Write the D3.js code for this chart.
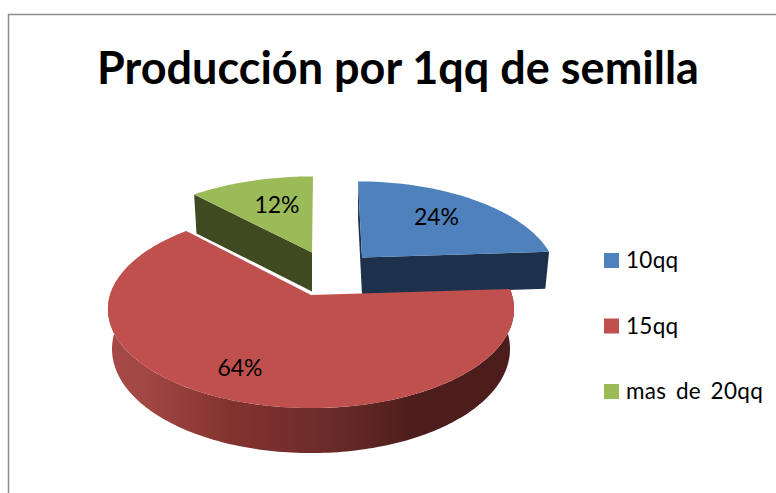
<!DOCTYPE html>
<html><head><meta charset="utf-8">
<script src="https://cdn.jsdelivr.net/npm/d3@7/dist/d3.min.js"></script>
<style>html,body{margin:0;padding:0;background:#fff}svg{display:block}text{font-family:Lato,"Open Sans",sans-serif;fill:#000}</style>
</head><body>
<script>
const titleText = "Producción por 1qq de semilla";
const categories = ["10qq", "15qq", "mas de 20qq"];
const seriesValues = [24, 64, 12];
const sliceColors = ["#4f81bd", "#c0504d", "#9bbb59"];
const wallColors = ["#1d314d", null, "#404a20"];

const W = 776, H = 493;
const svg = d3.select("body").append("svg").attr("width", W).attr("height", H);

const defs = svg.append("defs");
const grad = defs.append("linearGradient").attr("id", "wall").attr("x1", 0).attr("x2", 1).attr("y1", 0).attr("y2", 0);
[[0, "#a84a47"], [0.1, "#a04643"], [0.3, "#83332f"], [0.55, "#6a2b2a"], [0.75, "#4e1e1c"], [1, "#4a1c1b"]]
  .forEach(([o, c]) => grad.append("stop").attr("offset", o).attr("stop-color", c));

// frame
svg.append("path").attr("d", `M8.5,${H}V14.5H${W}`).attr("fill", "none").attr("stroke", "#8c8c8c").attr("stroke-width", 1.5);

// title
svg.append("text").attr("x", 398).attr("y", 84).attr("text-anchor", "middle")
  .attr("font-size", 45).attr("font-weight", 700).text(titleText);

// pie angles
const arcs = d3.pie().sort(null).value(d => d)(seriesValues);

// per-slice placement of the exploded pie (apex on screen, plane radius, perspective, label offset)
const placement = [
  { cx: 362, cy: 257.5, R: 190, A: 91, B: 0.196, skew: 4, depth: 37, lab: [74.5, -41] },
  { cx: 311, cy: 295, R: 201, A: 97, B: 0.142, skew: 0, depth: 39, lab: [-71, 73] },
  { cx: 312, cy: 252.5, R: 198, A: 91, B: 0.196, skew: -1, depth: 39, lab: [-35, -48] }
];
function project(p, r, th) {
  const u = r * Math.sin(th), v = -r * Math.cos(th), k = 1 / (1 - p.B * v);
  return [p.cx + p.R * u * k + p.skew * Math.min(v, 0), p.cy + p.A * v * k, v];
}
function lower(p, pt) {
  const d = p.depth + 6 * Math.max(pt[2], 0);
  return [p.cx + (pt[0] - p.cx) * 0.98, pt[1] + d];
}
const line = d3.line();
const xy = q => [q[0], q[1]];
function rim(p, t0, t1) {
  const n = Math.max(2, Math.ceil(Math.abs(t1 - t0) / 0.02));
  return d3.range(n + 1).map(i => project(p, 1, t0 + (t1 - t0) * i / n));
}

const g = svg.append("g");
// back slices first
[2, 0, 1].forEach(i => {
  const a = arcs[i], p = placement[i];
  const outer = rim(p, a.startAngle, a.endAngle);
  const apex = [p.cx, p.cy, 0];
  if (i === 1) {
    const front = rim(p, a.startAngle, Math.min(a.endAngle, 1.5 * Math.PI + 0.15));
    const wall = front.concat(front.slice().reverse().map(q => lower(p, q)));
    g.append("path").attr("d", line(wall.map(xy)) + "Z").attr("fill", "url(#wall)");
  } else if (i === 0) {
    [outer[outer.length - 1], outer[0]].forEach(e => {
      const quad = [apex, e, lower(p, e), lower(p, apex)];
      g.append("path").attr("d", line(quad.map(xy)) + "Z").attr("fill", wallColors[i]);
    });
  } else {
    const s = outer[0];
    const quad = [apex, s, lower(p, s), lower(p, apex)];
    g.append("path").attr("d", line(quad.map(xy)) + "Z").attr("fill", wallColors[i]);
  }
  g.append("path").attr("d", line([apex].concat(outer).map(xy)) + "Z").attr("fill", sliceColors[i]);
});

// data labels
arcs.forEach((a, i) => {
  const p = placement[i];
  const pct = Math.round(100 * (a.endAngle - a.startAngle) / (2 * Math.PI));
  svg.append("text").attr("x", p.cx + p.lab[0]).attr("y", p.cy + p.lab[1] + 8)
    .attr("text-anchor", "middle").attr("font-size", 23).text(pct + "%");
});

// legend
const legendY = d3.scalePoint().domain(categories).range([260.5, 391.5]);
categories.forEach((c, i) => {
  svg.append("rect").attr("x", 604).attr("y", legendY(c) - 7.5).attr("width", 15).attr("height", 15).attr("fill", sliceColors[i]);
  svg.append("text").attr("x", 626).attr("y", legendY(c) + 7.5).attr("font-size", 22.5)
    .attr("letter-spacing", 0.3).attr("word-spacing", 3.5).text(c);
});
</script>
</body></html>
